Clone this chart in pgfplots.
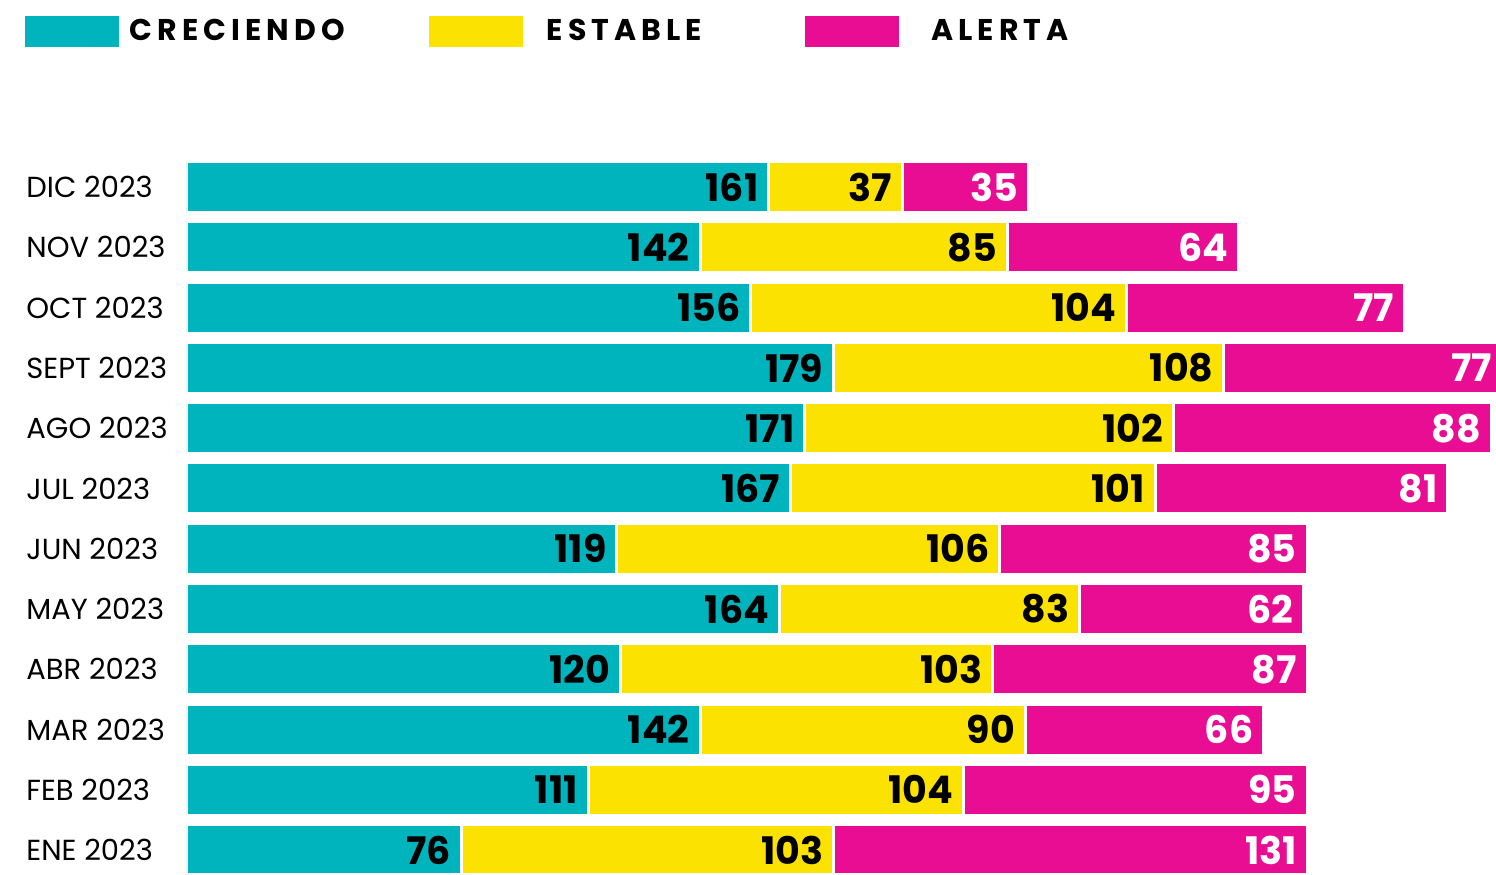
\documentclass[border=0pt]{standalone}
\usepackage{fontspec}
\setmainfont{Poppins}
\usepackage{pgfplots}
\pgfplotsset{compat=1.18}
\usepackage{pgfplotstable}
\definecolor{cteal}{HTML}{00B4BE}
\definecolor{cyel}{HTML}{FCE200}
\definecolor{cmag}{HTML}{E80D93}
\newfontfamily\legfont[LetterSpace=17]{Poppins}

\pgfplotstableread{
idx c e a
0 76 103 131
1 111 104 95
2 142 90 66
3 120 103 87
4 164 83 62
5 119 106 85
6 167 101 81
7 171 102 88
8 179 108 77
9 156 104 77
10 142 85 64
11 161 37 35
}\datatable

\pgfplotsset{
  common/.style={
    scale only axis, width=654.5pt, height=358pt,
    xmin=0, xmax=362.3, ymin=-0.38, ymax=11.5,
  },
  lab/.style={draw=none, mark=none, nodes near coords, point meta=explicit symbolic,
    nodes near coords style={anchor=east, xshift=-5pt, inner sep=0pt,
      font=\bfseries\fontsize{19}{20}\selectfont, text=#1}},
}

\begin{document}
\begin{tikzpicture}
\begin{axis}[
  name=ax, common,
  xbar stacked, bar width=25.5pt, bar shift=0pt,
  axis line style={draw=none},
  major tick length=0pt,
  xtick=\empty,
  ytick={0,...,11},
  yticklabels={ENE 2023,FEB 2023,MAR 2023,ABR 2023,MAY 2023,JUN 2023,JUL 2023,AGO 2023,SEPT 2023,OCT 2023,NOV 2023,DIC 2023},
  yticklabel style={anchor=west, xshift=-80.5pt, inner sep=0pt, font=\fontsize{14.5}{16}\selectfont},
  legend columns=3,
  legend style={at={(axis description cs:0,1)}, anchor=north west, xshift=-81pt, yshift=71pt,
    draw=none, fill=none, inner sep=0pt,
    /tikz/every even column/.append style={column sep=40pt},
    /tikz/every odd column/.append style={column sep=3pt},
    font=\legfont\bfseries\fontsize{15}{16}\selectfont},
  legend image code/.code={\path[#1,draw=none] (0pt,-7.75pt) rectangle (47pt,7.75pt);},
]
\addplot[fill=cteal, draw=white, line width=1.5pt] table[x=c, y=idx]{\datatable};
\addlegendentry{CRECIENDO}
\addplot[fill=cyel, draw=white, line width=1.5pt] table[x=e, y=idx]{\datatable};
\addlegendentry{\hspace{7pt}ESTABLE\kern9.5pt\null}
\addplot[fill=cmag, draw=white, line width=1.5pt] table[x=a, y=idx]{\datatable};
\addlegendentry{\hspace{11pt}ALERTA}
\end{axis}
\begin{axis}[common, at={(ax.south west)}, anchor=south west, hide axis, clip=false]
\addplot[lab=black] table[x=c, y=idx, meta=c]{\datatable};
\addplot[lab=black] table[x expr=\thisrow{c}+\thisrow{e}, y=idx, meta=e]{\datatable};
\addplot[lab=white] table[x expr=\thisrow{c}+\thisrow{e}+\thisrow{a}, y=idx, meta=a]{\datatable};
\end{axis}
\pgfresetboundingbox
\path ([xshift=-93.5pt,yshift=-1pt]ax.south west) rectangle ([yshift=78.5pt]ax.north east);
\end{tikzpicture}
\end{document}
